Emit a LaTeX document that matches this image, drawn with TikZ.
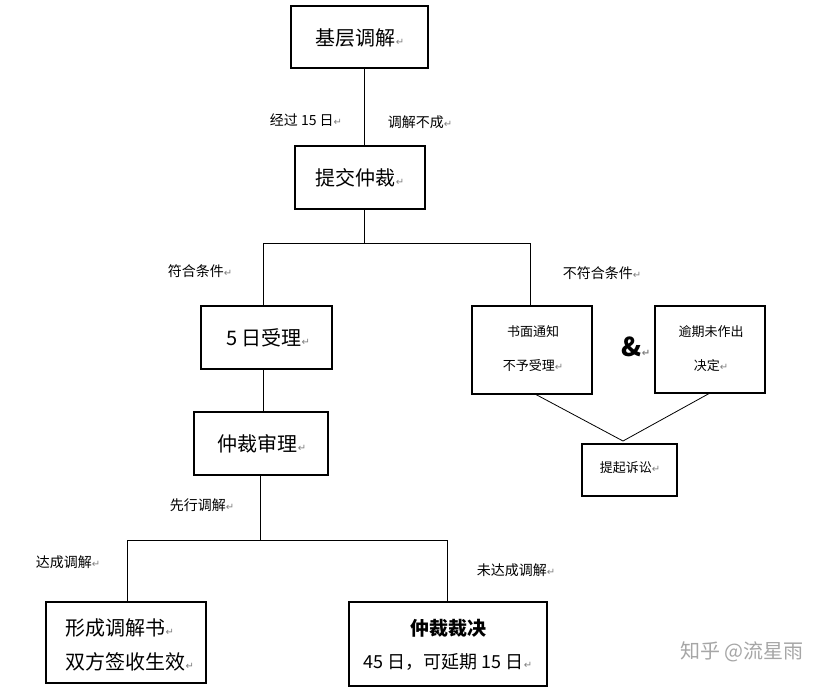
\documentclass[tikz,border=0pt]{standalone}
\usepackage{fontspec}
\setmainfont{Noto Sans CJK SC}
\newfontfamily\dejavu{DejaVu Sans}
\newcommand{\parmk}{{\dejavu\color{gray}\fontsize{10}{10}\selectfont ↵}}
\begin{document}
\begin{tikzpicture}[x=1pt,y=-1pt,
  box/.style={draw,line width=1.3pt},
  ln/.style={line width=0.8pt},
  big/.style={font=\fontsize{20}{24}\selectfont},
  sm/.style={font=\fontsize{14}{17}\selectfont},
  xs/.style={font=\fontsize{13}{16}\selectfont}]
\useasboundingbox (0,0) rectangle (838,686);
\fill[white] (0,0) rectangle (838,686);
% boxes
\draw[box] (291,6) rectangle (428,68); \node[big] (a) at (360,38) {基层调解\parmk};
\draw[box] (295,146) rectangle (425,209); \node[big] (b) at (360,178) {提交仲裁\parmk};
\draw[box] (201,306) rectangle (332,369); \node[big] (c) at (268,338) {5 日受理\parmk};
\draw[box] (194,412) rectangle (328,475); \node[big] (d) at (262,444) {仲裁审理\parmk};
\draw[box] (46,602) rectangle (206,683);
\node[big,anchor=west] (e1) at (62,628) {形成调解书\parmk};
\node[big,anchor=west] (e2) at (62,662) {双方签收生效\parmk};
\draw[box] (349,602) rectangle (547,686);
\node[font=\fontsize{19}{24}\selectfont\bfseries] (f1) at (448,628) {仲裁裁决};
\node[font=\fontsize{18}{24}\selectfont] (f2) at (448,662) {45 日，可延期 15 日\parmk};
\draw[box] (472,306) rectangle (592,394);
\node[xs] (g1) at (533,332) {书面通知};
\node[xs] (g2) at (533,366) {不予受理\parmk};
\draw[box] (655,306) rectangle (765,393);
\node[xs] (h1) at (711,332) {逾期未作出};
\node[xs] (h2) at (711,366) {决定\parmk};
\draw[box] (582,444) rectangle (677,496); \node[xs] (i) at (630,468) {提起诉讼\parmk};
\node[font=\fontsize{26}{30}\selectfont\bfseries] (amp) at (636,347) {\&\parmk};
% connectors
\draw[ln] (364,68) -- (364,146);
\draw[ln] (364,209) -- (364,243);
\draw[ln] (263,306) -- (263,243) -- (530,243) -- (530,306);
\draw[ln] (263,369) -- (263,412);
\draw[ln] (260,475) -- (260,540);
\draw[ln] (127,602) -- (127,540) -- (447,540) -- (447,602);
\draw[ln] (535,394) -- (623,441) -- (710,393);
% labels
\node[sm] at (306,120) {经过 15 日\parmk};
\node[sm] at (420,122) {调解不成\parmk};
\node[sm] at (200,271) {符合条件\parmk};
\node[sm] at (602,273) {不符合条件\parmk};
\node[sm] at (202,505) {先行调解\parmk};
\node[sm] at (68,562) {达成调解\parmk};
\node[sm] at (516,570) {未达成调解\parmk};
\node[font=\fontsize{20}{24}\selectfont,text=gray!70] at (742,652) {知乎 @流星雨};
\end{tikzpicture}
\end{document}
